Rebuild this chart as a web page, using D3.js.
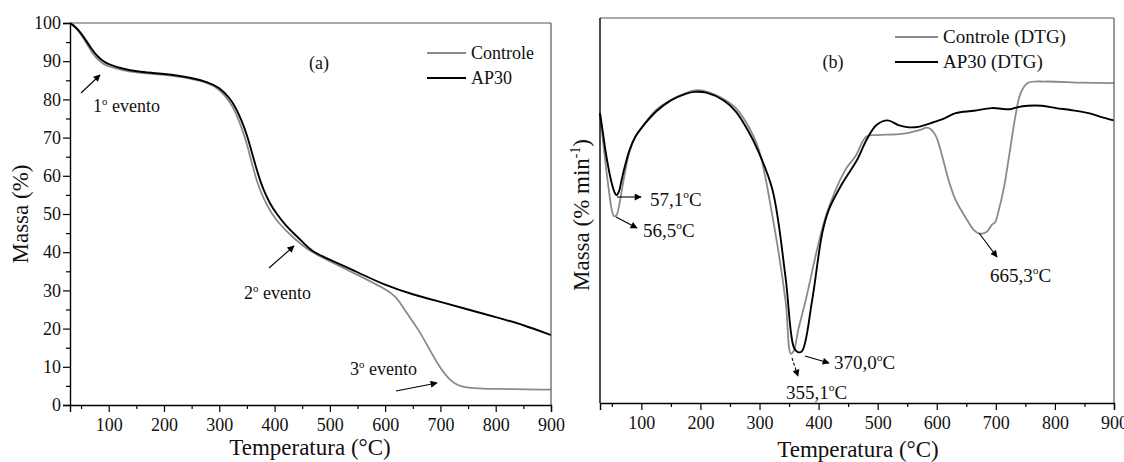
<!DOCTYPE html>
<html>
<head>
<meta charset="utf-8">
<script src="https://cdn.jsdelivr.net/npm/d3@7"></script>
<style>
  body { margin: 0; background: #fff; }
  svg text { font-family: "Liberation Serif", "Times New Roman", "DejaVu Serif", serif; fill: #111; }
</style>
</head>
<body>
<svg id="chart"></svg>
<script>
var width = 1124,
    height = 462;

// TGA (a) - Controle
var tempCtrlTGA = [30, 40, 50, 60, 70, 80, 90, 100, 125, 150, 200, 250, 280, 300, 320, 330, 340, 350, 360, 370, 380, 395, 410, 430, 450, 466, 500, 550, 600, 620, 640, 660, 680, 700, 720, 740, 800, 900];
var massaCtrl   = [100, 98.8, 97, 94.6, 92.2, 90.4, 89.3, 88.6, 87.6, 87.0, 86.5, 85.5, 84.3, 82.8, 79.3, 76.5, 72.8, 68.4, 62.6, 57.6, 54.0, 50.0, 47.2, 44.3, 41.8, 40.1, 37.6, 34.1, 30.4, 28.5, 23.8, 19.9, 14.6, 9.5, 6, 4.4, 4.2, 4.0];

// TGA (a) - AP30
var tempAP30TGA = [30, 40, 50, 60, 70, 80, 90, 100, 125, 150, 200, 250, 280, 300, 320, 330, 340, 350, 360, 370, 380, 392, 404, 420, 437, 450, 466, 500, 550, 600, 650, 700, 750, 800, 850, 900];
var massaAP30   = [100, 99, 97.4, 95.2, 93, 91.2, 90, 89.2, 88, 87.3, 86.7, 85.7, 84.5, 83.2, 80.2, 77.8, 74.6, 70.8, 65.6, 60.4, 56.2, 52.6, 50, 47, 44.6, 42.8, 40.3, 38, 34.8, 31.3, 28.9, 27, 25, 23, 21, 18.3];

// DTG (b) - relative units (no scale shown on the axis)
var tempCtrlDTG = [30, 35, 40, 45, 50, 54, 58, 62, 66, 72, 80, 90, 100, 125, 150, 175, 190, 210, 240, 260, 280, 299, 322, 344, 353, 358, 366, 378, 412, 445, 462, 481, 499, 541, 571, 583, 590, 599, 608, 620, 632, 648, 663, 672, 684, 693, 699, 705, 714, 724, 733, 742, 754, 784, 845, 900];
var dtgCtrl     = [75.3, 68.3, 61.4, 55.3, 50.1, 48.5, 48.8, 51.0, 54.4, 59.6, 65.3, 69.2, 71.4, 76.1, 78.7, 80.5, 81.2, 80.9, 78.9, 76.6, 72.2, 65.7, 48.4, 26.6, 12.8, 13.6, 19.3, 26.6, 48.4, 60.5, 64.0, 69.2, 69.6, 69.9, 70.9, 71.5, 71.1, 69.2, 64.8, 57.9, 52.7, 48.4, 44.9, 44.0, 44.4, 46.2, 47.0, 50.1, 56.2, 65.7, 74.4, 80.5, 83.1, 83.5, 83.2, 83.1];

var tempAP30DTG = [30, 35, 40, 45, 50, 55, 58, 62, 66, 72, 80, 90, 100, 125, 150, 175, 190, 210, 240, 260, 280, 297, 322, 344, 358, 365, 372, 389, 406, 417, 440, 465, 481, 498, 517, 535, 553, 571, 590, 614, 632, 663, 693, 724, 736, 754, 778, 802, 827, 857, 876, 900];
var dtgAP30     = [75.3, 70.1, 64.8, 60.5, 57.0, 54.6, 54.0, 54.9, 57.5, 61.4, 65.7, 69.2, 71.4, 75.7, 78.6, 80.3, 80.8, 80.6, 78.5, 75.7, 70.9, 65.7, 55.3, 32.7, 14.5, 13.2, 13.5, 26.6, 44.0, 50.1, 57.0, 63.1, 68.3, 72.2, 73.4, 72.2, 71.6, 71.8, 72.7, 74.0, 75.3, 75.9, 76.6, 76.3, 76.8, 77.2, 77.2, 76.6, 76.1, 75.3, 74.4, 73.4];

var xTicks = [100, 200, 300, 400, 500, 600, 700, 800, 900],
    xMinor = [50, 150, 250, 350, 450, 550, 650, 750, 850],
    yTicks = [0, 10, 20, 30, 40, 50, 60, 70, 80, 90, 100],
    yMinor = [5, 15, 25, 35, 45, 55, 65, 75, 85, 95];

var grey = "#8a8a8a", black = "#000";

var svg = d3.select("#chart")
  .attr("width", width)
  .attr("height", height);

var defs = svg.append("defs");
defs.append("marker")
    .attr("id", "arrow")
    .attr("viewBox", "0 0 10 10")
    .attr("refX", 9).attr("refY", 5)
    .attr("markerWidth", 9).attr("markerHeight", 7)
    .attr("markerUnits", "userSpaceOnUse")
    .attr("orient", "auto")
  .append("path")
    .attr("d", "M0,0L10,5L0,10Z")
    .attr("fill", "#000");

function toPoints(xs, ys) {
  return xs.map(function (t, i) { return [t, ys[i]]; });
}

// parts = [[text, isSuperscript], ...]
function richText(g, x, y, parts, size, anchor) {
  var t = g.append("text")
    .attr("x", x).attr("y", y)
    .attr("font-size", size)
    .attr("text-anchor", anchor || "start");
  var up = false;
  parts.forEach(function (p) {
    var dy = 0;
    if (p[1] && !up) { dy = -0.4 * size; up = true; }
    else if (!p[1] && up) { dy = 0.4 * size; up = false; }
    t.append("tspan")
      .attr("dy", dy)
      .attr("font-size", p[1] ? size * 0.6 : size)
      .text(p[0]);
  });
  return t;
}

function arrow(g, x1, y1, x2, y2, dash) {
  g.append("line")
    .attr("x1", x1).attr("y1", y1)
    .attr("x2", x2).attr("y2", y2)
    .attr("stroke", "#000")
    .attr("stroke-width", 1.1)
    .attr("stroke-dasharray", dash ? "3,2" : null)
    .attr("marker-end", "url(#arrow)");
}

function drawFrame(g, x, y, ticksY) {
  var x0 = x.range()[0], x1 = x.range()[1],
      y0 = y.range()[0], y1 = y.range()[1];
  g.append("line").attr("x1", x0).attr("x2", x1).attr("y1", y1).attr("y2", y1)
    .attr("stroke", "#555").attr("stroke-width", 1.2);
  g.append("line").attr("x1", x1).attr("x2", x1).attr("y1", y1).attr("y2", y0)
    .attr("stroke", "#555").attr("stroke-width", 1.2);

  var xa = g.append("g")
    .attr("transform", "translate(0," + y0 + ")")
    .call(d3.axisBottom(x).tickValues(xTicks).tickSize(7).tickPadding(6).tickFormat(d3.format("d")));
  g.append("g")
    .attr("transform", "translate(0," + y0 + ")")
    .call(d3.axisBottom(x).tickValues(xMinor).tickSize(4).tickFormat(""))
    .select(".domain").remove();
  xa.selectAll("text").attr("font-size", 18);

  if (ticksY) {
    var ya = g.append("g")
      .attr("transform", "translate(" + x0 + ",0)")
      .call(d3.axisLeft(y).tickValues(yTicks).tickSize(7).tickPadding(2));
    g.append("g")
      .attr("transform", "translate(" + x0 + ",0)")
      .call(d3.axisLeft(y).tickValues(yMinor).tickSize(4).tickFormat(""))
      .select(".domain").remove();
    ya.selectAll("text").attr("font-size", 18);
    ya.select(".domain").attr("stroke-width", 1.4);
  } else {
    g.append("line").attr("x1", x0).attr("x2", x0).attr("y1", y1).attr("y2", y0)
      .attr("stroke", "#000").attr("stroke-width", 1.4);
  }
  g.selectAll(".tick line").attr("stroke-width", 1.2);
  xa.select(".domain").attr("stroke-width", 1.4);
}

// ---------- panel (a) ----------
var xA = d3.scaleLinear().domain([30, 900]).range([70, 551]);
var yA = d3.scaleLinear().domain([0, 100]).range([405, 23]);
var gA = svg.append("g");

var lineA = d3.line().curve(d3.curveBasis)
  .x(function (d) { return xA(d[0]); })
  .y(function (d) { return yA(d[1]); });
gA.append("path").attr("d", lineA(toPoints(tempCtrlTGA, massaCtrl)))
  .attr("fill", "none").attr("stroke", grey).attr("stroke-width", 1.8);
gA.append("path").attr("d", lineA(toPoints(tempAP30TGA, massaAP30)))
  .attr("fill", "none").attr("stroke", black).attr("stroke-width", 1.9);

drawFrame(gA, xA, yA, true);

gA.append("text").attr("x", 310).attr("y", 455).attr("text-anchor", "middle")
  .attr("font-size", 23).text("Temperatura (°C)");
gA.append("text").attr("transform", "translate(28,214) rotate(-90)")
  .attr("text-anchor", "middle").attr("font-size", 23).text("Massa (%)");
gA.append("text").attr("x", 319).attr("y", 69).attr("text-anchor", "middle")
  .attr("font-size", 18).text("(a)");

// legend (a)
[["Controle", grey, 53], ["AP30", black, 78]].forEach(function (l) {
  gA.append("line").attr("x1", 427).attr("x2", 466).attr("y1", l[2]).attr("y2", l[2])
    .attr("stroke", l[1]).attr("stroke-width", 1.8);
  gA.append("text").attr("x", 471).attr("y", l[2] + 6).attr("font-size", 18).text(l[0]);
});

richText(gA, 93, 112, [["1", false], ["o", true], [" evento", false]], 18);
arrow(gA, 81, 93, 100, 75);
richText(gA, 244, 299, [["2", false], ["o", true], [" evento", false]], 18);
arrow(gA, 269, 268, 294, 246);
richText(gA, 350, 375, [["3", false], ["o", true], [" evento", false]], 18);
arrow(gA, 396, 391, 437, 383);

// ---------- panel (b) ----------
var xB = d3.scaleLinear().domain([30, 900]).range([600, 1114]);
var yB = d3.scaleLinear().domain([0, 100]).range([403, 18]);
var gB = svg.append("g");

var lineB = d3.line().curve(d3.curveCatmullRom.alpha(0.5))
  .x(function (d) { return xB(d[0]); })
  .y(function (d) { return yB(d[1]); });
gB.append("path").attr("d", lineB(toPoints(tempCtrlDTG, dtgCtrl)))
  .attr("fill", "none").attr("stroke", grey).attr("stroke-width", 1.8);
gB.append("path").attr("d", lineB(toPoints(tempAP30DTG, dtgAP30)))
  .attr("fill", "none").attr("stroke", black).attr("stroke-width", 1.9);

drawFrame(gB, xB, yB, false);

gB.append("text").attr("x", 858).attr("y", 457).attr("text-anchor", "middle")
  .attr("font-size", 23).text("Temperatura (°C)");
richText(gB.append("g").attr("transform", "translate(589,215) rotate(-90)"), 0, 0,
  [["Massa (% min", false], ["-1", true], [")", false]], 23, "middle");
gB.append("text").attr("x", 833).attr("y", 68).attr("text-anchor", "middle")
  .attr("font-size", 18).text("(b)");

[["Controle (DTG)", grey, 37], ["AP30 (DTG)", black, 62]].forEach(function (l) {
  gB.append("line").attr("x1", 895).attr("x2", 938).attr("y1", l[2]).attr("y2", l[2])
    .attr("stroke", l[1]).attr("stroke-width", 1.8);
  gB.append("text").attr("x", 943).attr("y", l[2] + 6).attr("font-size", 19).text(l[0]);
});

richText(gB, 650, 206, [["57,1", false], ["o", true], ["C", false]], 19);
arrow(gB, 617, 197, 641, 197);
richText(gB, 643, 237, [["56,5", false], ["o", true], ["C", false]], 19);
arrow(gB, 616, 217, 637, 228);
richText(gB, 786, 399, [["355,1", false], ["o", true], ["C", false]], 19);
arrow(gB, 792, 358, 798, 376, true);
richText(gB, 834, 369, [["370,0", false], ["o", true], ["C", false]], 19);
arrow(gB, 805, 356, 829, 363);
richText(gB, 990, 282, [["665,3", false], ["o", true], ["C", false]], 19);
arrow(gB, 979, 233, 997, 257);
</script>
</body>
</html>
